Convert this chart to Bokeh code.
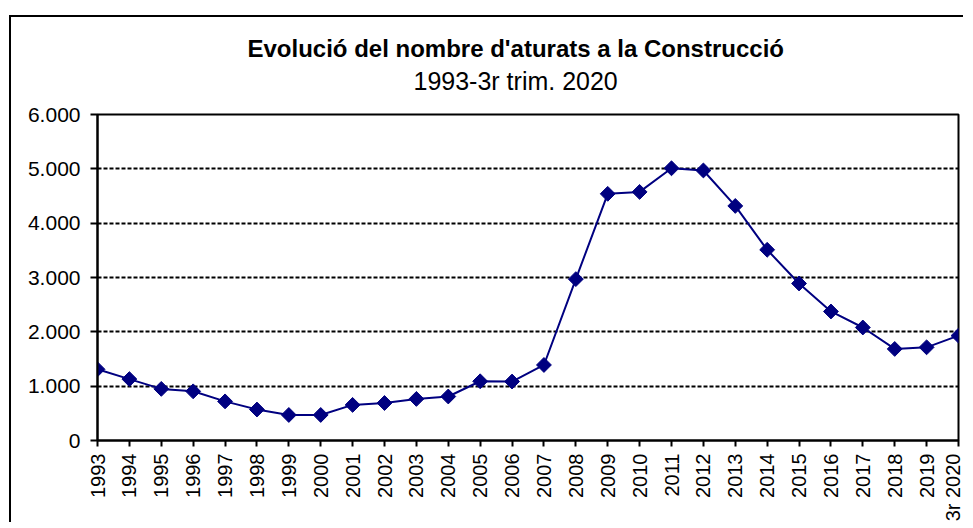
import math
from bokeh.plotting import figure
from bokeh.models import Range1d, FixedTicker, Title, ColumnDataSource
from bokeh.embed import file_html
from bokeh.resources import INLINE

# ---- data ----
years = list(range(1993, 2021))
aturats = [1310, 1130, 950, 905, 720, 570, 470, 470, 655, 690, 765, 810, 1090,
           1085, 1390, 2970, 4540, 4575, 5010, 4970, 4317, 3510, 2890, 2375,
           2080, 1685, 1715, 1930]
x_labels = [str(y) for y in years[:-1]] + ["3r 2020"]
y_ticks = [0, 1000, 2000, 3000, 4000, 5000, 6000]
y_labels = ["0", "1.000", "2.000", "3.000", "4.000", "5.000", "6.000"]
title_text = "Evolució del nombre d'aturats a la Construcció"
subtitle_text = "1993-3r trim. 2020"

FONT = "Liberation Sans"

p = figure(width=954, height=507, output_backend="svg", toolbar_location=None,
           x_range=Range1d(years[0], years[-1]), y_range=Range1d(0, 6000),
           min_border_left=86, min_border_right=7, min_border_top=97,
           min_border_bottom=82, title=None)
p.styles = {"border-left": "2px solid black", "border-top": "2px solid black",
            "margin-top": "15px", "margin-left": "9px"}

p.add_layout(Title(text=subtitle_text, align="left", offset=316,
                   text_font=FONT, text_font_size="25px", text_font_style="normal",
                   text_color="black", standoff=40), "above")
p.add_layout(Title(text=title_text, align="left", offset=150,
                   text_font=FONT, text_font_size="24px", text_font_style="bold",
                   text_color="black", standoff=-35), "above")

src = ColumnDataSource(dict(x=years, y=aturats))
p.line("x", "y", source=src, line_color="#000080", line_width=2)
p.scatter("x", "y", source=src, marker="square", angle=math.pi / 4, size=10.5,
          fill_color="#000080", line_color="#000080")

# frame
p.outline_line_color = "black"
p.outline_line_width = 2
p.background_fill_color = "white"
p.border_fill_color = "white"

# grid
p.xgrid.visible = False
p.ygrid.grid_line_color = "black"
p.ygrid.grid_line_dash = "4 2"
p.ygrid.grid_line_width = 1.8

# x axis
p.xaxis.ticker = FixedTicker(ticks=years)
p.xaxis.major_label_overrides = {y: lab for y, lab in zip(years, x_labels)}
p.xaxis.major_label_orientation = math.pi / 2
p.xaxis.major_label_text_font = FONT
p.xaxis.major_label_text_font_size = "20px"
p.xaxis.major_label_text_color = "black"
p.xaxis.major_label_standoff = 7
p.xaxis.major_tick_in = 0
p.xaxis.major_tick_out = 6
p.xaxis.minor_tick_line_color = None
p.xaxis.axis_line_width = 2
p.xaxis.major_tick_line_width = 2
p.xaxis.axis_line_color = "black"
p.xaxis.major_tick_line_color = "black"

# y axis
p.yaxis.ticker = FixedTicker(ticks=y_ticks)
p.yaxis.major_label_overrides = {t: lab for t, lab in zip(y_ticks, y_labels)}
p.yaxis.major_label_text_font = FONT
p.yaxis.major_label_text_font_size = "21px"
p.yaxis.major_label_text_color = "black"
p.yaxis.major_label_standoff = 10
p.yaxis.major_tick_in = 0
p.yaxis.major_tick_out = 7
p.yaxis.minor_tick_line_color = None
p.yaxis.axis_line_width = 2
p.yaxis.major_tick_line_width = 2
p.yaxis.axis_line_color = "black"
p.yaxis.major_tick_line_color = "black"

open("out.html", "w").write(file_html(p, INLINE))
